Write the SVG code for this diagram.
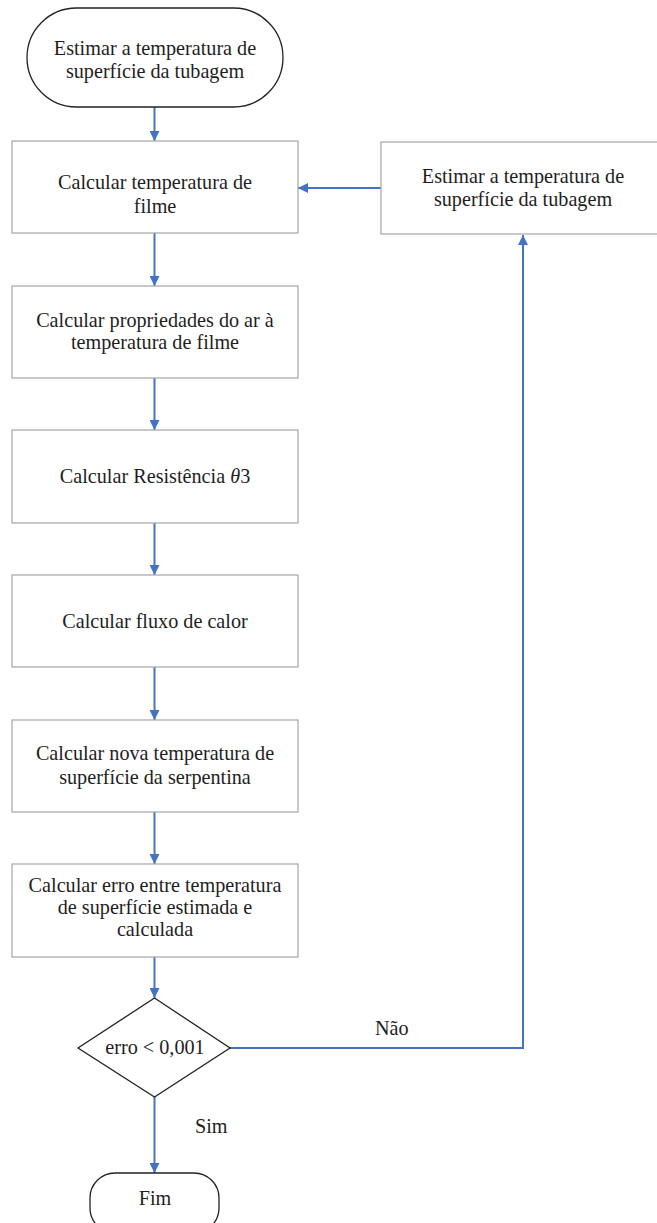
<svg xmlns="http://www.w3.org/2000/svg" width="657" height="1223" viewBox="0 0 657 1223">
<defs>
<marker id="ah" markerWidth="10" markerHeight="10" refX="10" refY="5" orient="auto" markerUnits="userSpaceOnUse">
<path d="M0,0 L10,5 L0,10 Z" fill="#4472C4"/>
</marker>
</defs>
<style>
.box{fill:#fff;stroke:#a6a6a6;stroke-width:1.2}
.term{fill:#fff;stroke:#222;stroke-width:1.3}
.t{font-size:20.2px;fill:#1e1e1e;text-anchor:middle}
.l{font-size:20.2px;fill:#1e1e1e}
.c{fill:none;stroke:#4472C4;stroke-width:2;marker-end:url(#ah)}
</style>
<rect width="657" height="1223" fill="#fff"/>
<g font-family="'Liberation Serif', 'Times New Roman', 'DejaVu Serif', serif">
<g id="connectors">
<line class="c" x1="154.5" y1="107" x2="154.5" y2="141"/>
<line class="c" x1="154.5" y1="233" x2="154.5" y2="286"/>
<line class="c" x1="154.5" y1="378" x2="154.5" y2="430"/>
<line class="c" x1="154.5" y1="523" x2="154.5" y2="575"/>
<line class="c" x1="154.5" y1="667" x2="154.5" y2="720"/>
<line class="c" x1="154.5" y1="812" x2="154.5" y2="864"/>
<line class="c" x1="154.5" y1="957" x2="154.5" y2="998"/>
<line class="c" x1="154.5" y1="1097" x2="154.5" y2="1173"/>
<line class="c" x1="381" y1="188" x2="298" y2="188"/>
<polyline class="c" points="230,1048 523,1048 523,235"/>
<text class="l" x="195" y="1133">Sim</text>
<text class="l" x="375" y="1035">Não</text>
</g>
<g id="start">
<rect class="term" x="27" y="8" width="256" height="99" rx="49.5" ry="49.5"/>
<text class="t" x="155" y="55">Estimar a temperatura de</text>
<text class="t" x="155" y="78">superfície da tubagem</text>
</g>
<g id="film">
<rect class="box" x="12" y="141" width="286" height="92"/>
<text class="t" x="155" y="189">Calcular temperatura de</text>
<text class="t" x="155" y="213">filme</text>
</g>
<g id="estimate">
<rect class="box" x="381" y="142" width="286" height="92"/>
<text class="t" x="523" y="183">Estimar a temperatura de</text>
<text class="t" x="523" y="206">superfície da tubagem</text>
</g>
<g id="props">
<rect class="box" x="12" y="286" width="286" height="92"/>
<text class="t" x="155" y="327">Calcular propriedades do ar à</text>
<text class="t" x="155" y="349">temperatura de filme</text>
</g>
<g id="resist">
<rect class="box" x="12" y="430" width="286" height="93"/>
<text class="t" x="155" y="483">Calcular Resistência <tspan font-style="italic">θ</tspan>3</text>
</g>
<g id="flux">
<rect class="box" x="12" y="575" width="286" height="92"/>
<text class="t" x="155" y="628">Calcular fluxo de calor</text>
</g>
<g id="newtemp">
<rect class="box" x="12" y="720" width="286" height="92"/>
<text class="t" x="155" y="760">Calcular nova temperatura de</text>
<text class="t" x="155" y="784">superfície da serpentina</text>
</g>
<g id="error">
<rect class="box" x="12" y="864" width="286" height="93"/>
<text class="t" x="155" y="892">Calcular erro entre temperatura</text>
<text class="t" x="155" y="914">de superfície estimada e</text>
<text class="t" x="155" y="936">calculada</text>
</g>
<g id="decision">
<polygon class="term" points="154.5,998 230,1048 154.5,1097 78,1048"/>
<text class="t" x="155" y="1054">erro &lt; 0,001</text>
</g>
<g id="end">
<rect class="term" x="90" y="1173" width="129" height="60" rx="25" ry="25"/>
<text class="t" x="155" y="1205">Fim</text>
</g>
</g>
</svg>
